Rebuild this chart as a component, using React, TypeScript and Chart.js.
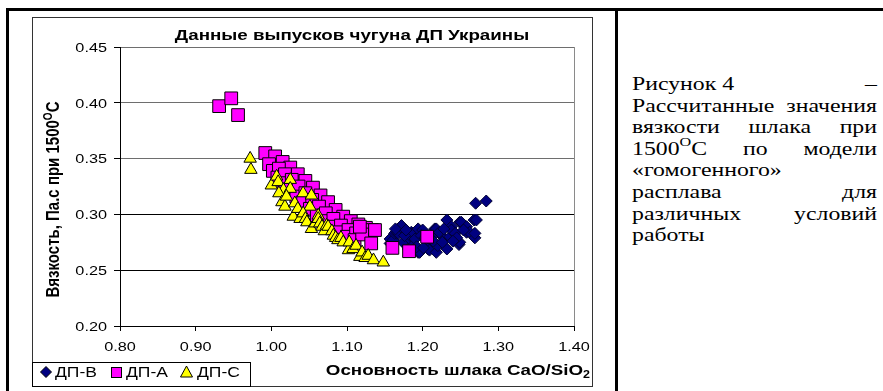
import React, { useEffect, useRef } from 'react';
import { Chart, registerables } from 'chart.js';

Chart.register(...registerables);

// ---------- data ----------
const SERIES_NAMES = ['ДП-В', 'ДП-А', 'ДП-С'];

const DP_V_X = [1.157, 1.157, 1.161, 1.163, 1.166, 1.168, 1.171, 1.172, 1.174, 1.181, 1.183, 1.185, 1.185, 1.187, 1.187, 1.194, 1.194, 1.196, 1.200, 1.207, 1.207, 1.207, 1.209, 1.216, 1.218, 1.218, 1.220, 1.225, 1.229, 1.232, 1.232, 1.238, 1.236, 1.238, 1.248, 1.249, 1.249, 1.251, 1.258, 1.258, 1.262, 1.268, 1.269, 1.269, 1.271, 1.176, 1.190, 1.198, 1.203, 1.212, 1.214, 1.222, 1.228, 1.243, 1.245, 1.254, 1.164, 1.178, 1.192, 1.201, 1.226, 1.240, 1.270, 1.284];
const DP_V_Y = [0.274, 0.278, 0.277, 0.283, 0.283, 0.283, 0.289, 0.290, 0.275, 0.269, 0.278, 0.284, 0.280, 0.283, 0.272, 0.287, 0.266, 0.266, 0.286, 0.275, 0.274, 0.269, 0.268, 0.287, 0.287, 0.266, 0.272, 0.281, 0.278, 0.295, 0.269, 0.289, 0.280, 0.286, 0.273, 0.275, 0.293, 0.293, 0.284, 0.289, 0.284, 0.295, 0.279, 0.283, 0.295, 0.281, 0.278, 0.281, 0.279, 0.280, 0.276, 0.284, 0.287, 0.283, 0.279, 0.286, 0.287, 0.286, 0.271, 0.270, 0.275, 0.276, 0.310, 0.312];

const DP_A_X = [0.931, 0.947, 0.956, 0.992, 1.005, 1.015, 1.025, 1.035, 1.045, 1.055, 1.065, 1.075, 1.085, 1.095, 1.105, 1.115, 1.125, 1.133, 0.997, 1.002, 1.010, 1.008, 1.018, 1.016, 1.027, 1.024, 1.036, 1.033, 1.045, 1.042, 1.054, 1.051, 1.063, 1.060, 1.072, 1.070, 1.082, 1.080, 1.092, 1.090, 1.102, 1.100, 1.112, 1.110, 1.120, 1.117, 1.132, 1.137, 1.160, 1.182, 1.206];
const DP_A_Y = [0.397, 0.404, 0.389, 0.355, 0.352, 0.347, 0.342, 0.336, 0.330, 0.324, 0.317, 0.311, 0.304, 0.298, 0.294, 0.291, 0.288, 0.286, 0.345, 0.339, 0.341, 0.333, 0.336, 0.328, 0.331, 0.322, 0.325, 0.316, 0.319, 0.311, 0.313, 0.305, 0.307, 0.299, 0.301, 0.294, 0.296, 0.289, 0.290, 0.284, 0.286, 0.280, 0.283, 0.277, 0.282, 0.289, 0.274, 0.286, 0.270, 0.267, 0.280];

const DP_C_X = [0.972, 0.973, 1.000, 1.007, 1.009, 1.016, 1.025, 1.025, 1.010, 1.014, 1.018, 1.020, 1.031, 1.042, 1.053, 1.051, 1.029, 1.035, 1.038, 1.042, 1.045, 1.047, 1.053, 1.058, 1.062, 1.062, 1.064, 1.067, 1.070, 1.073, 1.075, 1.080, 1.082, 1.085, 1.088, 1.092, 1.095, 1.102, 1.103, 1.108, 1.112, 1.117, 1.120, 1.124, 1.128, 1.135, 1.148];
const DP_C_Y = [0.350, 0.340, 0.326, 0.334, 0.329, 0.322, 0.331, 0.323, 0.319, 0.311, 0.307, 0.316, 0.310, 0.319, 0.317, 0.307, 0.298, 0.305, 0.296, 0.301, 0.296, 0.293, 0.287, 0.292, 0.299, 0.296, 0.292, 0.289, 0.285, 0.290, 0.289, 0.285, 0.281, 0.279, 0.277, 0.279, 0.275, 0.268, 0.275, 0.269, 0.272, 0.262, 0.266, 0.261, 0.263, 0.259, 0.257];

const X_TICKS = [0.8, 0.9, 1.0, 1.1, 1.2, 1.3, 1.4];
const Y_TICKS = [0.2, 0.25, 0.3, 0.35, 0.4, 0.45];

const TITLE = 'Данные выпусков чугуна ДП Украины';
const Y_TITLE = ['Вязкость, Па.с при 1500', 'O', 'C'];
const X_TITLE = ['Основность шлака CaO/SiO', '2'];

// ---------- drawing helpers ----------
const S = 1.25; // horizontal stretch of the reference
const FF = '"Liberation Sans", Arial, sans-serif';

type Seg = { t: string; font: string; dy: number };

function drawRich(ctx: CanvasRenderingContext2D, segs: Seg[], x: number, y: number, align: 'left' | 'center' | 'right', rotate = false) {
  ctx.save();
  ctx.translate(x, y);
  ctx.scale(S, 1);
  if (rotate) ctx.rotate(-Math.PI / 2);
  ctx.fillStyle = '#000';
  ctx.textBaseline = 'alphabetic';
  ctx.textAlign = 'left';
  const widths = segs.map((s) => {
    ctx.font = s.font;
    return ctx.measureText(s.t).width;
  });
  const total = widths.reduce((a, b) => a + b, 0);
  let cur = align === 'center' ? -total / 2 : align === 'right' ? -total : 0;
  segs.forEach((s, i) => {
    ctx.font = s.font;
    ctx.fillText(s.t, cur, s.dy);
    cur += widths[i];
  });
  ctx.restore();
}

const textPlugin = {
  id: 'refText',
  afterDraw(chart: any) {
    const ctx: CanvasRenderingContext2D = chart.ctx;
    const ca = chart.chartArea;
    const xs = chart.scales.x;
    const ys = chart.scales.y;
    const W = chart.width;
    const H = chart.height;

    // plot-area right edge
    ctx.save();
    ctx.strokeStyle = '#8a8a8a';
    ctx.lineWidth = 1;
    ctx.beginPath();
    ctx.moveTo(Math.round(ca.right) + 0.5, ca.top);
    ctx.lineTo(Math.round(ca.right) + 0.5, ca.bottom);
    ctx.stroke();
    // chart border
    ctx.strokeStyle = '#333';
    ctx.strokeRect(0.5, 0.5, W - 1, H - 1);
    ctx.restore();

    // title
    drawRich(ctx, [{ t: TITLE, font: `bold 15px ${FF}`, dy: 0 }], 320, 22.5, 'center');

    // tick labels
    const tickFont = `13px ${FF}`;
    ys.ticks.forEach((t: any) => {
      const py = ys.getPixelForValue(t.value);
      drawRich(ctx, [{ t: t.value.toFixed(2), font: tickFont, dy: 0 }], 75, py + 4.7, 'right');
    });
    xs.ticks.forEach((t: any) => {
      const px = xs.getPixelForValue(t.value);
      drawRich(ctx, [{ t: t.value.toFixed(2), font: tickFont, dy: 0 }], px, 333.5, 'center');
    });

    // axis titles
    drawRich(
      ctx,
      [
        { t: X_TITLE[0], font: `bold 15px ${FF}`, dy: 0 },
        { t: X_TITLE[1], font: `bold 10px ${FF}`, dy: 3 },
      ],
      558,
      358,
      'right'
    );
    drawRich(
      ctx,
      [
        { t: Y_TITLE[0], font: `bold 15px ${FF}`, dy: 0 },
        { t: Y_TITLE[1], font: `bold 10px ${FF}`, dy: -6 },
        { t: Y_TITLE[2], font: `bold 15px ${FF}`, dy: 0 },
      ],
      27,
      182.5,
      'center',
      true
    );

    // legend
    ctx.save();
    ctx.fillStyle = '#fff';
    ctx.fillRect(1, 346, 217, 23);
    ctx.strokeStyle = '#000';
    ctx.lineWidth = 1;
    ctx.strokeRect(0.5, 345.5, 218, 24);
    const cy = 355;
    // diamond
    ctx.beginPath();
    ctx.moveTo(14 - 5.5, cy);
    ctx.lineTo(14, cy - 5.5);
    ctx.lineTo(14 + 5.5, cy);
    ctx.lineTo(14, cy + 5.5);
    ctx.closePath();
    ctx.fillStyle = '#000080';
    ctx.fill();
    ctx.strokeStyle = '#000';
    ctx.stroke();
    // square
    ctx.fillStyle = '#ff00ff';
    ctx.fillRect(79.5, 350.5, 10, 10);
    ctx.strokeRect(79.5, 350.5, 10, 10);
    // triangle
    ctx.beginPath();
    ctx.moveTo(154.5, cy - 6);
    ctx.lineTo(160.5, cy + 5);
    ctx.lineTo(148.5, cy + 5);
    ctx.closePath();
    ctx.fillStyle = '#ffff00';
    ctx.fill();
    ctx.stroke();
    ctx.restore();
    const lf = `14px ${FF}`;
    drawRich(ctx, [{ t: SERIES_NAMES[0], font: lf, dy: 0 }], 23, 359.7, 'left');
    drawRich(ctx, [{ t: SERIES_NAMES[1], font: lf, dy: 0 }], 94, 359.7, 'left');
    drawRich(ctx, [{ t: SERIES_NAMES[2], font: lf, dy: 0 }], 165, 359.7, 'left');
  },
};

function pts(xs: number[], ys: number[]) {
  return xs.map((x, i) => ({ x, y: ys[i] }));
}

function ChartBox() {
  const ref = useRef<HTMLCanvasElement>(null);
  useEffect(() => {
    if (!ref.current) return;
    const chart = new Chart(ref.current, {
      type: 'scatter',
      data: {
        datasets: [
          {
            label: SERIES_NAMES[0],
            data: pts(DP_V_X, DP_V_Y),
            pointStyle: 'rectRot',
            pointRadius: 6,
            backgroundColor: '#000080',
            borderColor: '#000033',
            borderWidth: 1,
            order: 3,
          },
          {
            label: SERIES_NAMES[1],
            data: pts(DP_A_X, DP_A_Y),
            pointStyle: 'rect',
            pointRadius: 9,
            backgroundColor: '#ff00ff',
            borderColor: '#000',
            borderWidth: 1,
            order: 2,
          },
          {
            label: SERIES_NAMES[2],
            data: pts(DP_C_X, DP_C_Y),
            pointStyle: 'triangle',
            pointRadius: 7.2,
            backgroundColor: '#ffff00',
            borderColor: '#000',
            borderWidth: 1,
            order: 1,
          },
        ],
      },
      options: {
        responsive: false,
        animation: false,
        devicePixelRatio: 1,
        events: [],
        layout: { padding: { left: 0, right: 19, top: 30, bottom: 0 } },
        plugins: { legend: { display: false }, title: { display: false }, tooltip: { enabled: false } },
        scales: {
          x: {
            type: 'linear',
            min: 0.8,
            max: 1.4,
            afterBuildTicks: (s: any) => {
              s.ticks = X_TICKS.map((v) => ({ value: v }));
            },
            afterFit: (s: any) => {
              s.height = 61;
            },
            ticks: { display: false },
            grid: { drawOnChartArea: false, drawTicks: true, tickLength: 5, tickColor: '#000' },
            border: { color: '#000', width: 1 },
          },
          y: {
            type: 'linear',
            min: 0.2,
            max: 0.45,
            afterBuildTicks: (s: any) => {
              s.ticks = Y_TICKS.map((v) => ({ value: v }));
            },
            afterFit: (s: any) => {
              s.width = 88;
            },
            ticks: { display: false },
            grid: {
              color: (c: any) => (c.tick && c.tick.value >= 0.34 ? '#6e6e6e' : '#000'),
              tickColor: '#000',
              tickLength: 6,
              lineWidth: 1,
            },
            border: { color: '#000', width: 1 },
          },
        },
      },
      plugins: [textPlugin],
    } as any);
    return () => chart.destroy();
  }, []);
  return (
    <canvas
      ref={ref}
      width={561}
      height={370}
      style={{ position: 'absolute', left: 32, top: 17, width: 561, height: 370 }}
    />
  );
}

const TS = 1.22; // stretch for the caption
const CAP_W = 245 / TS;

function Line({ children, justify }: { children: React.ReactNode; justify: boolean }) {
  return (
    <div
      style={{
        display: 'flex',
        justifyContent: justify ? 'space-between' : 'flex-start',
        height: 21.6,
        lineHeight: '21.6px',
        whiteSpace: 'nowrap',
      }}
    >
      {children}
    </div>
  );
}

export default function App() {
  return (
    <div
      style={{
        position: 'fixed',
        left: 0,
        top: 0,
        width: 883,
        height: 391,
        overflow: 'hidden',
        background: '#fff',
      }}
    >
      <div style={{ position: 'absolute', left: 6, top: 8, width: 877, height: 3, background: '#000' }} />
      <div style={{ position: 'absolute', left: 6, top: 8, width: 3, height: 383, background: '#000' }} />
      <div style={{ position: 'absolute', left: 615, top: 8, width: 3, height: 383, background: '#000' }} />
      <ChartBox />
      <div
        style={{
          position: 'absolute',
          left: 632,
          top: 73,
          width: CAP_W,
          transform: `scaleX(${TS})`,
          transformOrigin: '0 0',
          fontFamily: '"Liberation Serif", "Times New Roman", serif',
          fontSize: 19.5,
          color: '#000',
        }}
      >
        <Line justify>
          <span>Рисунок 4</span>
          <span>–</span>
        </Line>
        <Line justify>
          <span>Рассчитанные</span>
          <span>значения</span>
        </Line>
        <Line justify>
          <span>вязкости</span>
          <span>шлака</span>
          <span>при</span>
        </Line>
        <Line justify>
          <span>
            1500
            <span style={{ fontSize: '0.68em', position: 'relative', top: '-0.65em' }}>O</span>C
          </span>
          <span>по</span>
          <span>модели</span>
        </Line>
        <Line justify={false}>
          <span>«гомогенного»</span>
        </Line>
        <Line justify>
          <span>расплава</span>
          <span>для</span>
        </Line>
        <Line justify>
          <span>различных</span>
          <span>условий</span>
        </Line>
        <Line justify={false}>
          <span>работы</span>
        </Line>
      </div>
    </div>
  );
}
